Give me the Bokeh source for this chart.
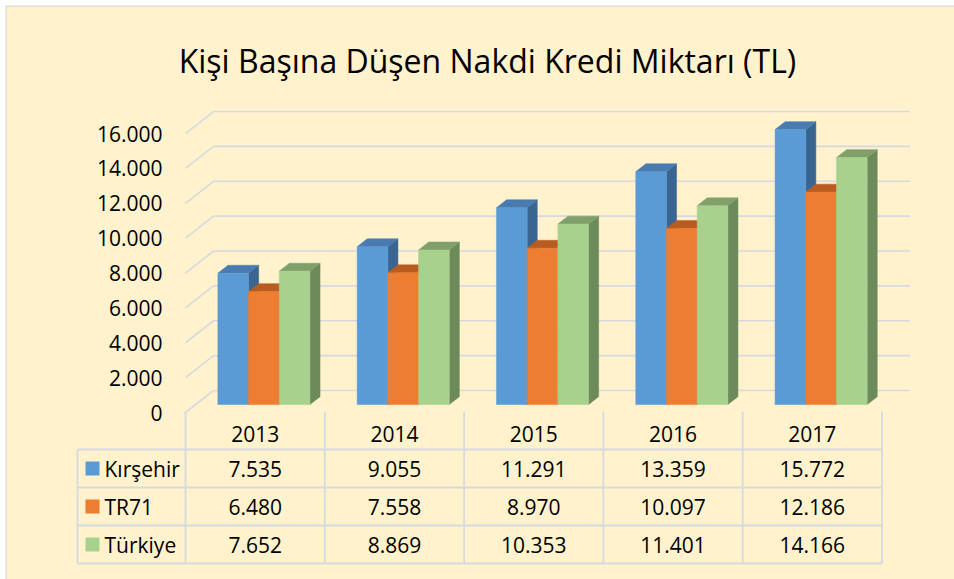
from bokeh.plotting import figure
from bokeh.models import Range1d, ColumnDataSource
from bokeh.core.properties import value
from bokeh.embed import file_html
from bokeh.resources import INLINE

# ---------------- data ----------------
years = ["2013", "2014", "2015", "2016", "2017"]
series_names = ["Kırşehir", "TR71", "Türkiye"]
kirsehir = [7535, 9055, 11291, 13359, 15772]
tr71 = [6480, 7558, 8970, 10097, 12186]
turkiye = [7652, 8869, 10353, 11401, 14166]
y_ticks = [0, 2000, 4000, 6000, 8000, 10000, 12000, 14000, 16000]
title_text = "Kişi Başına Düşen Nakdi Kredi Miktarı (TL)"

def fmt(v):
    return f"{v:,}".replace(",", ".")

# ---------------- styling ----------------
W, H = 954, 579
ML, MT = 5, 5          # white strip left/top of the chart area
BG = "#FFF2CC"
GRID = "#D6D9DF"
BORDER = "#D9D9D9"
FONT = "Open Sans"
TXT = "#000000"
FS = "21px"
face_colors = ["#5B9BD5", "#ED7D31", "#A9D18E"]
top_colors = ["#4A7BB0", "#B85C22", "#7FA06A"]
side_colors = ["#3B6591", "#A9541E", "#6C8A5A"]

# pixel geometry (page px) -> data coordinates
CW = 139.3            # px per category at the front plane
X0 = 185.0            # px of category 0 left edge
K = 0.017437          # px per value unit
Y0 = 412.0            # px (from top) of value 0 at front plane

def U(px):
    return (px - X0) / CW

def V(py):
    return (Y0 - py) / K

DU = 28.0 / CW        # full depth offset (x)
DV = 22.0 / K         # full depth offset (y)
F1, F2 = 0.36, 0.72   # bar front/back depth fractions
BW = 0.2204           # bar width in category units
GAP = 0.16

p = figure(width=W, height=H, output_backend="svg", toolbar_location=None,
           x_range=Range1d(U(ML), U(W)), y_range=Range1d(V(H), V(MT)),
           min_border_left=ML, min_border_top=MT, min_border_right=0,
           min_border_bottom=0, background_fill_color=BG,
           border_fill_color="white", outline_line_color=None)
p.axis.visible = False
p.grid.visible = False

n = len(years)

# chart border (left / top)
p.segment(x0=[U(ML + 0.5), U(ML)], y0=[V(H), V(MT + 0.5)],
          x1=[U(ML + 0.5), U(W)], y1=[V(MT), V(MT + 0.5)],
          line_color=BORDER, line_width=1.5)

# ---------------- walls / gridlines ----------------
gx0, gy0, gx1, gy1 = [], [], [], []
for t in y_ticks:
    gx0.append(0); gy0.append(t); gx1.append(DU); gy1.append(t + DV)
    gx0.append(DU); gy0.append(t + DV); gx1.append(n + DU); gy1.append(t + DV)
p.segment(x0=gx0, y0=gy0, x1=gx1, y1=gy1, line_color=GRID, line_width=1.6)

# ---------------- bars ----------------
xs, ys, cs = [], [], []
all_series = [kirsehir, tr71, turkiye]
for i in range(n):
    for s, vals in enumerate(all_series):
        h = vals[i]
        ul = i + GAP + s * BW
        ur = ul + BW
        a1u, a1v = F1 * DU, F1 * DV
        a2u, a2v = F2 * DU, F2 * DV
        # side
        xs.append([ur + a1u, ur + a2u, ur + a2u, ur + a1u])
        ys.append([a1v, a2v, h + a2v, h + a1v])
        cs.append(side_colors[s])
        # top
        xs.append([ul + a1u, ur + a1u, ur + a2u, ul + a2u])
        ys.append([h + a1v, h + a1v, h + a2v, h + a2v])
        cs.append(top_colors[s])
        # front
        xs.append([ul + a1u, ur + a1u, ur + a1u, ul + a1u])
        ys.append([a1v, a1v, h + a1v, h + a1v])
        cs.append(face_colors[s])
p.patches(xs="xs", ys="ys", fill_color="c", line_color="c", line_width=0.5,
          source=ColumnDataSource(dict(xs=xs, ys=ys, c=cs)))

# ---------------- y tick labels ----------------
p.text(x=[U(162)] * len(y_ticks), y=y_ticks, text=[fmt(t) for t in y_ticks],
       text_align="right", text_baseline="middle", text_font=value(FONT),
       text_font_size=FS, text_color=TXT)

# ---------------- title ----------------
p.text(x=[U(487)], y=[V(60)], text=[title_text], text_align="center",
       text_baseline="alphabetic", text_font=value(FONT), text_font_size="32px",
       text_color=TXT)

# ---------------- data table ----------------
row_tops = [411, 449, 487, 525, 563]   # header top, row lines
leg_left = U(77)
vx0, vy0, vx1, vy1 = [], [], [], []
for k in range(n + 1):
    vx0.append(k); vy0.append(V(row_tops[0])); vx1.append(k); vy1.append(V(row_tops[-1]))
vx0.append(leg_left); vy0.append(V(row_tops[1])); vx1.append(leg_left); vy1.append(V(row_tops[-1]))
for r in row_tops[1:]:
    vx0.append(leg_left); vy0.append(V(r)); vx1.append(n); vy1.append(V(r))
p.segment(x0=vx0, y0=vy0, x1=vx1, y1=vy1, line_color=GRID, line_width=1.8)

# header years
p.text(x=[k + 0.5 for k in range(n)], y=[V(433)] * n, text=years,
       text_align="center", text_baseline="middle", text_font=value(FONT),
       text_font_size=FS, text_color=TXT)

# values
tx, ty, tt = [], [], []
for s, vals in enumerate(all_series):
    rc = (row_tops[s + 1] + row_tops[s + 2]) / 2
    for k in range(n):
        tx.append(k + 0.5); ty.append(V(rc)); tt.append(fmt(vals[k]))
p.text(x=tx, y=ty, text=tt, text_align="center", text_baseline="middle",
       text_font=value(FONT), text_font_size=FS, text_color=TXT)

# legend keys
lk_rc = [(row_tops[s + 1] + row_tops[s + 2]) / 2 for s in range(3)]
p.quad(left=[U(85)] * 3, right=[U(99)] * 3,
       bottom=[V(rc + 7) for rc in lk_rc], top=[V(rc - 7) for rc in lk_rc],
       fill_color=face_colors, line_color=None)
p.text(x=[U(104)] * 3, y=[V(rc) for rc in lk_rc], text=series_names,
       text_align="left", text_baseline="middle", text_font=value(FONT),
       text_font_size=FS, text_color=TXT)

open("out.html", "w").write(file_html(p, INLINE))
